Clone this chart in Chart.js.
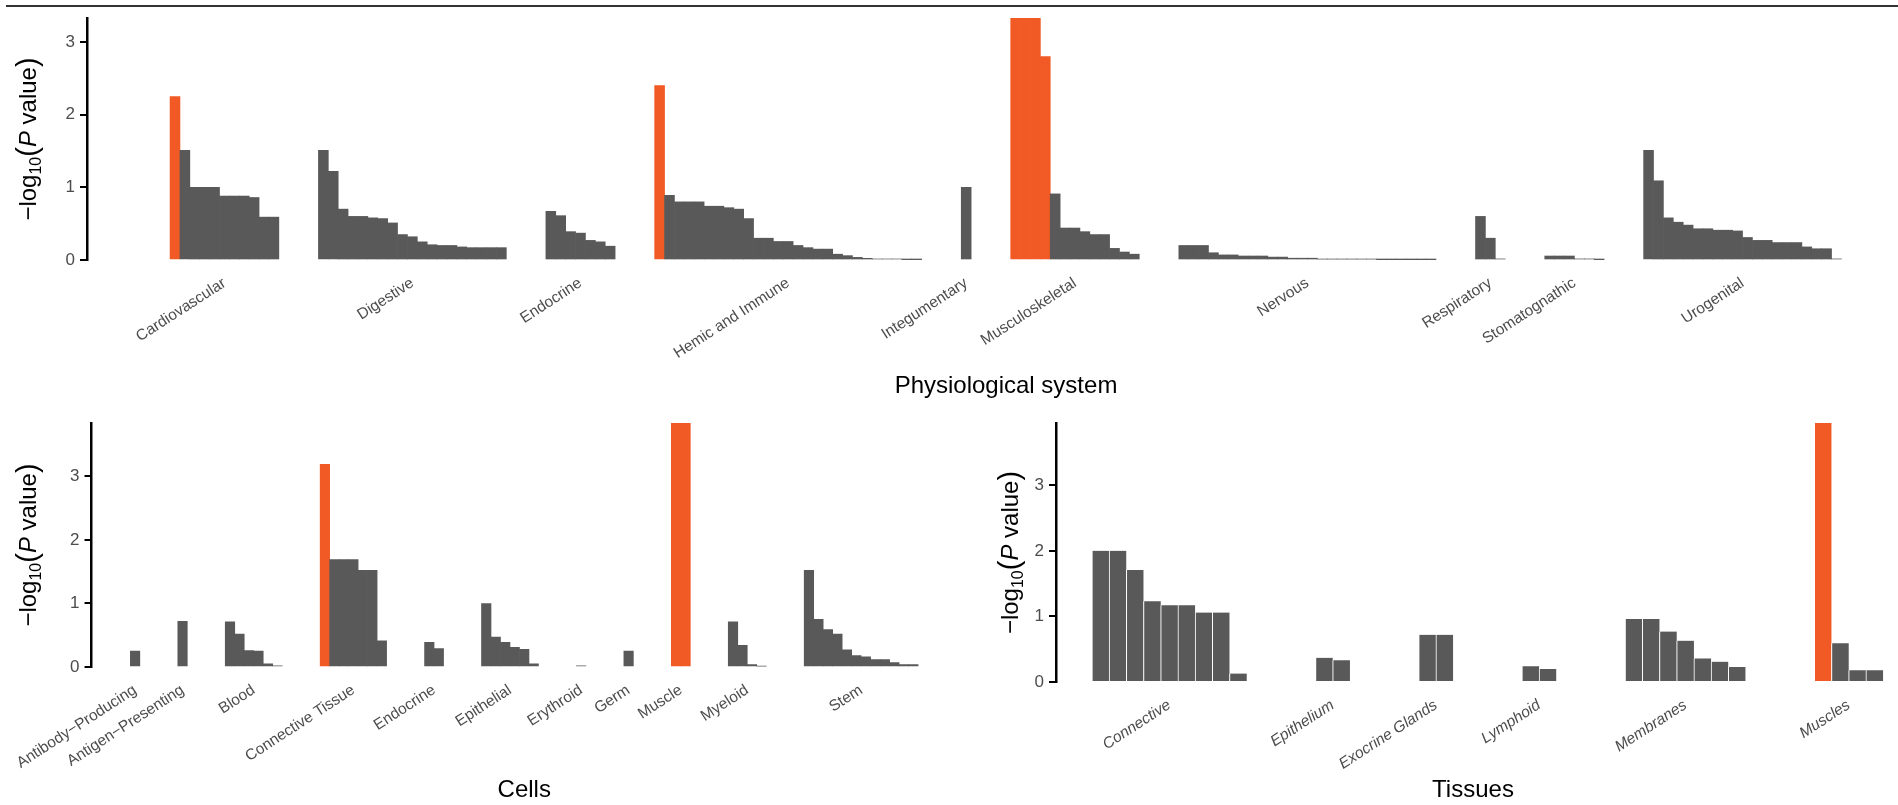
<!DOCTYPE html>
<html>
<head>
<meta charset="utf-8">
<title>Enrichment by physiological system, cells and tissues</title>
<script src="https://cdn.jsdelivr.net/npm/chart.js@4.4.1/dist/chart.umd.min.js"></script>
<style>
    html, body { margin: 0; padding: 0; background: #fff; }
    body { width: 1898px; height: 805px; position: relative; overflow: hidden; }
    .rule { position: absolute; left: 6px; top: 5px; right: 0; height: 2px; background: #333; }
    .panel { position: absolute; }
    #topPanel { left: 0; top: 0; width: 1925px; height: 405px; }
    #cellPanel { left: 0; top: 405px; width: 965px; height: 400px; }
    #tissuePanel { left: 950px; top: 405px; width: 948px; height: 400px; }
</style>
</head>
<body>
<div class="rule"></div>
<div class="panel" id="topPanel"><canvas id="topChart"></canvas></div>
<div class="panel" id="cellPanel"><canvas id="cellChart"></canvas></div>
<div class="panel" id="tissuePanel"><canvas id="tissueChart"></canvas></div>

<script>
// Physiological system
var systemNames = ['Cardiovascular', 'Digestive', 'Endocrine', 'Hemic and Immune', 'Integumentary',
    'Musculoskeletal', 'Nervous', 'Respiratory', 'Stomatognathic', 'Urogenital'];
var cardiovascular = [2.25, 1.51, 1.0, 1.0, 1.0, 0.88, 0.88, 0.88, 0.86, 0.59, 0.59];
var digestive = [1.51, 1.22, 0.70, 0.60, 0.60, 0.58, 0.57, 0.51, 0.35, 0.32, 0.25, 0.21, 0.20, 0.20, 0.18, 0.17, 0.17, 0.17, 0.17];
var endocrineSys = [0.67, 0.61, 0.39, 0.37, 0.27, 0.25, 0.19];
var hemicImmune = [2.40, 0.89, 0.80, 0.80, 0.80, 0.74, 0.74, 0.72, 0.70, 0.57, 0.30, 0.30, 0.255, 0.255, 0.20, 0.17,
    0.15, 0.15, 0.08, 0.06, 0.036, 0.023, 0.014, 0.014, 0.014, 0.005, 0.005];
var integumentary = [1.0];
var musculoskeletal = [3.33, 3.33, 3.33, 2.80, 0.91, 0.44, 0.44, 0.39, 0.35, 0.35, 0.16, 0.11, 0.08];
var nervous = [0.20, 0.20, 0.20, 0.10, 0.07, 0.07, 0.055, 0.055, 0.055, 0.04, 0.04, 0.025, 0.025, 0.025,
    0.012, 0.012, 0.012, 0.012, 0.012, 0.012, 0.004, 0.004, 0.004, 0.004, 0.004, 0.004];
var respiratory = [0.60, 0.30, 0.015];
var stomatognathic = [0.055, 0.055, 0.055, 0.015, 0.015, 0.004];
var urogenital = [1.51, 1.09, 0.58, 0.52, 0.48, 0.43, 0.43, 0.41, 0.41, 0.40, 0.31, 0.27, 0.27, 0.24, 0.24, 0.24,
    0.18, 0.155, 0.155, 0.015];
var systemHighlight = [1, 0, 0, 1, 0, 4, 0, 0, 0, 0]; // leading orange bars per group

// Cells
var cellNames = ['Antibody\u2212Producing', 'Antigen\u2212Presenting', 'Blood', 'Connective Tissue', 'Endocrine',
    'Epithelial', 'Erythroid', 'Germ', 'Muscle', 'Myeloid', 'Stem'];
var antibodyProducing = [0.25];
var antigenPresenting = [0.72];
var blood = [0.71, 0.52, 0.26, 0.25, 0.05, 0.02];
var connectiveTissue = [3.19, 1.69, 1.69, 1.69, 1.52, 1.52, 0.41];
var endocrineCell = [0.39, 0.29];
var epithelial = [1.0, 0.47, 0.39, 0.31, 0.28, 0.05];
var erythroid = [0.02];
var germ = [0.25];
var muscleCell = [3.84, 3.84];
var myeloid = [0.71, 0.34, 0.04, 0.015];
var stem = [1.52, 0.75, 0.59, 0.52, 0.27, 0.18, 0.16, 0.115, 0.115, 0.07, 0.04, 0.04];
var cellHighlight = [0, 0, 0, 1, 0, 0, 0, 0, 2, 0, 0];

// Tissues
var tissueNames = ['Connective', 'Epithelium', 'Exocrine Glands', 'Lymphoid', 'Membranes', 'Muscles'];
var connective = [2.0, 2.0, 1.71, 1.23, 1.17, 1.17, 1.06, 1.06, 0.13];
var epithelium = [0.37, 0.33];
var exocrineGlands = [0.72, 0.72];
var lymphoid = [0.24, 0.20];
var membranes = [0.96, 0.96, 0.77, 0.63, 0.36, 0.31, 0.23];
var muscles = [3.95, 0.59, 0.18, 0.18];
var tissueHighlight = [0, 0, 0, 0, 0, 1];

var yTicks = [0, 1, 2, 3];

var ORANGE = '#F15A24';
var GREY = '#595959';
var GAP = 4; // empty slots between groups
var FONT = '"Liberation Sans", Arial, Helvetica, sans-serif';

Chart.defaults.font.family = FONT;
Chart.defaults.animation = false;

// rotated y title: -log10(P value) with subscript and italic P
var yTitlePlugin = {
    id: 'yTitle',
    afterDraw: function (chart, args, opts) {
        var ctx = chart.ctx;
        var area = chart.chartArea;
        var parts = [
            { t: '\u2212log', f: '24px ' + FONT, dy: 0 },
            { t: '10', f: '16px ' + FONT, dy: 5 },
            { t: '(', f: '29px ' + FONT, dy: 1 },
            { t: 'P', f: 'italic 24px ' + FONT, dy: 0 },
            { t: ' value', f: '24px ' + FONT, dy: 0 },
            { t: ')', f: '29px ' + FONT, dy: 1 }
        ];
        ctx.save();
        var total = 0;
        parts.forEach(function (p) {
            ctx.font = p.f;
            p.w = ctx.measureText(p.t).width;
            total += p.w;
        });
        ctx.translate(opts.x, (area.top + area.bottom) / 2);
        ctx.rotate(-Math.PI / 2);
        ctx.fillStyle = '#000';
        ctx.textBaseline = 'alphabetic';
        var x = -total / 2;
        parts.forEach(function (p) {
            ctx.font = p.f;
            ctx.fillText(p.t, x, 8 + p.dy);
            x += p.w;
        });
        ctx.restore();
    }
};

function buildPanel(canvasId, names, groups, highlight, cfg) {
    var points = [];
    var colors = [];
    var centers = [];
    var slot = 0;
    groups.forEach(function (vals, g) {
        var start = slot;
        vals.forEach(function (v, k) {
            points.push({ x: slot, y: v });
            colors.push(k < highlight[g] ? ORANGE : GREY);
            slot++;
        });
        centers.push((start + slot - 1) / 2);
        slot += GAP;
    });

    var ctx = document.getElementById(canvasId).getContext('2d');
    return new Chart(ctx, {
        type: 'bar',
        data: {
            datasets: [{
                data: points,
                backgroundColor: colors,
                borderColor: '#fff',
                borderWidth: cfg.separators ? { left: 1, right: 0, top: 0, bottom: 0 } : 0,
                borderSkipped: false,
                barPercentage: 1,
                categoryPercentage: 1
            }]
        },
        options: {
            responsive: true,
            maintainAspectRatio: false,
            layout: { padding: { top: cfg.padTop, right: cfg.padRight, left: 0, bottom: 0 } },
            plugins: {
                legend: { display: false },
                tooltip: { enabled: false },
                yTitle: { x: cfg.titleX }
            },
            scales: {
                x: {
                    type: 'linear',
                    offset: false,
                    min: cfg.xMin,
                    max: cfg.xMax,
                    grid: { display: false, drawTicks: false },
                    border: { display: false },
                    afterBuildTicks: function (scale) {
                        scale.ticks = centers.map(function (c) { return { value: c }; });
                    },
                    afterFit: function (scale) { scale.height = cfg.xHeight; },
                    ticks: {
                        autoSkip: false,
                        minRotation: 33,
                        maxRotation: 33,
                        padding: cfg.tickPad,
                        color: '#4D4D4D',
                        font: { size: 15.5, style: cfg.italic ? 'italic' : 'normal' },
                        callback: function (value, index) { return names[index]; }
                    },
                    title: {
                        display: true,
                        text: cfg.xTitle,
                        color: '#000',
                        font: { size: 24 },
                        padding: { top: 0, bottom: cfg.titlePad }
                    }
                },
                y: {
                    min: 0,
                    max: cfg.yMax,
                    afterBuildTicks: function (scale) {
                        scale.ticks = yTicks.map(function (v) { return { value: v }; });
                    },
                    afterFit: function (scale) { scale.width = cfg.yWidth; },
                    grid: { drawOnChartArea: false, drawTicks: true, tickLength: 7, color: '#000', lineWidth: 2 },
                    border: { display: true, color: '#000', width: 2.5 },
                    ticks: {
                        padding: 5,
                        color: '#4D4D4D',
                        font: { size: 17 }
                    }
                }
            }
        },
        plugins: [yTitlePlugin]
    });
}

buildPanel('topChart', systemNames,
    [cardiovascular, digestive, endocrineSys, hemicImmune, integumentary, musculoskeletal, nervous,
        respiratory, stomatognathic, urogenital],
    systemHighlight,
    { xMin: -8.9, xMax: 176.95, yMax: 3.33, yWidth: 87, xHeight: 145, padTop: 18, padRight: 0,
        tickPad: 14, titlePad: 4.6, titleX: 28, xTitle: 'Physiological system' });

buildPanel('cellChart', cellNames,
    [antibodyProducing, antigenPresenting, blood, connectiveTissue, endocrineCell, epithelial, erythroid,
        germ, muscleCell, myeloid, stem],
    cellHighlight,
    { xMin: -4.59, xMax: 86.6, yMax: 3.84, yWidth: 87, xHeight: 138, padTop: 18, padRight: 8,
        tickPad: 14, titlePad: 0, titleX: 28, xTitle: 'Cells' });

buildPanel('tissueChart', tissueNames,
    [connective, epithelium, exocrineGlands, lymphoid, membranes, muscles],
    tissueHighlight,
    { xMin: -2.59, xMax: 45.9, yMax: 3.95, yWidth: 106, xHeight: 123, padTop: 18, padRight: 8,
        tickPad: 14, titlePad: 0, titleX: 60, xTitle: 'Tissues', italic: true, separators: true });
</script>
</body>
</html>
